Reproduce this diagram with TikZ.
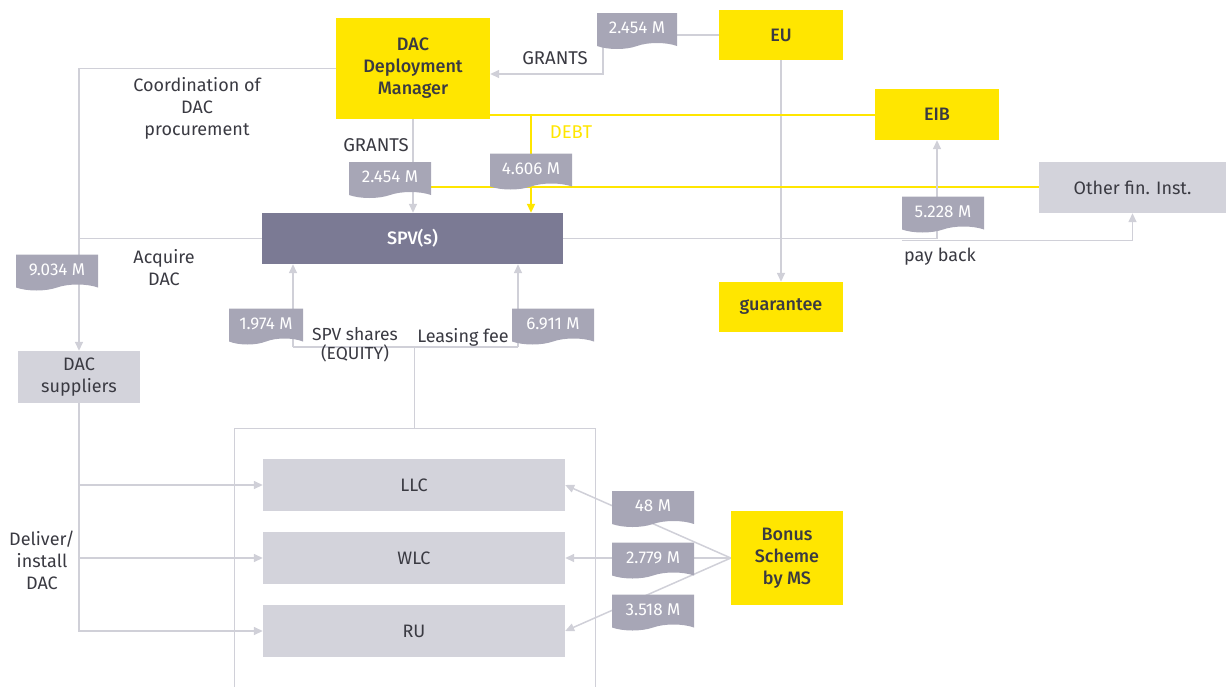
\documentclass[tikz,border=0pt]{standalone}
\usepackage{fontspec}
\setmainfont{Fira Sans}[BoldFont={Fira Sans Medium}]
\usetikzlibrary{arrows.meta,shapes.symbols,backgrounds}
\definecolor{eyyellow}{HTML}{FFE600}
\definecolor{spvfill}{HTML}{7B7A94}
\definecolor{lightbox}{HTML}{D3D3DB}
\definecolor{tagfill}{HTML}{A7A6B6}
\definecolor{linegrey}{HTML}{D0D0D8}
\definecolor{txt}{HTML}{3A3A42}
\tikzset{every picture/.style={x=1pt,y=-1pt}}
\tikzset{
  ybox/.style={fill=eyyellow, text=txt, font=\fontsize{18}{22}\selectfont\bfseries, align=center, inner sep=2pt},
  gbox/.style={fill=lightbox, text=txt, align=center, inner sep=2pt},
  moneytag/.style={shape=tape, tape bend top=none, tape bend bottom=in and out,
    tape bend height=6pt, fill=tagfill, text=white, font=\fontsize{17}{20}\selectfont,
    minimum width=82pt, minimum height=36pt, inner sep=0pt},
  flow/.style={draw=linegrey, line width=1.5pt},
  flowarr/.style={flow, -{Triangle[length=9pt,width=8pt]}},
  debt/.style={draw=eyyellow, line width=2pt},
  lbl/.style={text=txt, align=center}
}

\begin{document}
\begin{tikzpicture}[font=\fontsize{18}{22}\selectfont]
    \useasboundingbox (0,0) rectangle (1226,686);
    % boxes
    \node[ybox, minimum width=154pt, minimum height=101pt] (ddm) at (413,68.5) {DAC\\Deployment\\Manager};
    \node[ybox, minimum width=124pt, minimum height=50pt] (eu) at (781,35) {EU};
    \node[ybox, minimum width=124pt, minimum height=51pt] (eib) at (937,114.5) {EIB};
    \node[ybox, minimum width=124pt, minimum height=50pt] (guar) at (781,307) {guarantee};
    \node[ybox, minimum width=112pt, minimum height=94pt] (bonus) at (787,558) {Bonus\\Scheme\\by MS};
    \node[gbox, minimum width=187pt, minimum height=51pt] (ofi) at (1132.5,187.5) {Other fin. Inst.};
    \node[fill=spvfill, text=white, font=\fontsize{18}{22}\selectfont\bfseries, minimum width=301pt, minimum height=51pt] (spv) at (412.5,238.5) {SPV(s)};
    \node[gbox, minimum width=122pt, minimum height=52pt] (sup) at (79,377) {DAC\\suppliers};
    \node[draw=linegrey, line width=1pt, minimum width=361pt, minimum height=272pt] (grp) at (414.5,564) {};
    \node[gbox, minimum width=302pt, minimum height=52pt] (llc) at (414,485) {LLC};
    \node[gbox, minimum width=302pt, minimum height=52pt] (wlc) at (414,558) {WLC};
    \node[gbox, minimum width=302pt, minimum height=52pt] (ru) at (414,631) {RU};

    % amounts
    \node[moneytag, minimum width=80pt] (grantEU) at (637,28) {2.454 M};
    \node[moneytag] (grantDDM) at (390,177) {2.454 M};
    \node[moneytag] (loan) at (531,168.5) {4.606 M};
    \node[moneytag] (acq) at (57,269.5) {9.034 M};
    \node[moneytag, minimum width=74pt] (equity) at (266,323.5) {1.974 M};
    \node[moneytag] (lease) at (553,323.5) {6.911 M};
    \node[moneytag] (payback) at (943,211.5) {5.228 M};
    \node[moneytag] (bonLLC) at (653,506) {48 M\hspace{24pt}};
    \node[moneytag] (bonWLC) at (653,557.5) {2.779 M};
    \node[moneytag] (bonRU) at (653,609.5) {3.518 M};

    % texts
    \node[lbl, font=\fontsize{18.5}{22}\selectfont] (grantsA) at (555,58) {GRANTS};
    \node[lbl, font=\fontsize{18.5}{22}\selectfont] (grantsB) at (376,145) {GRANTS};
    \node[text=eyyellow, font=\fontsize{18.5}{22}\selectfont] (debtlbl) at (571,132) {DEBT};
    \node[lbl] (coord) at (197,108) {Coordination of\\DAC\\procurement};
    \node[lbl] (acqlbl) at (164,268) {Acquire\\DAC};
    \node[lbl, font=\fontsize{17.5}{19}\selectfont] (eqlbl) at (355,345) {SPV shares\\(EQUITY)};
    \node[lbl] (leaselbl) at (463,337) {Leasing fee};
    \node[lbl] (paylbl) at (940,257) {pay back};
    \node[lbl] (deliv) at (42,560) {Deliver/\\install\\DAC};

    \coordinate (eq) at (293,347);
    \coordinate (lf) at (518,347);

    \begin{scope}[on background layer]
    \draw[flowarr] (eu.west) -| ([xshift=6pt]grantEU.south west) |- ([yshift=-5.5pt]ddm.east);
    \draw[flowarr] (ddm.south) -- (ddm.south |- spv.north);
    \draw[flowarr] (eu.south) -- (guar.north);
    \draw[debt] (ddm.east |- eib.west) -- (eib.west);
    \draw[debt, -{Triangle[length=9pt,width=8pt]}] (loan |- eib.west) -- (loan |- spv.north);
    \draw[debt] ([yshift=0.5pt]grantDDM.east |- ofi.west) -- ([yshift=0.5pt]ofi.west);
    \draw[flowarr] (spv.east) -| (eib.south);
    \draw[flowarr] ([yshift=-2pt]spv.east -| payback.south west) -| (ofi.south);
    \draw[flowarr] (ddm.west) -| (sup.north);
    \draw[flow] (spv.west) -- (spv.west -| sup.north);
    \draw[flowarr] (sup.south) |- (ru.west);
    \draw[flowarr] (sup.south |- llc.west) -- (llc.west);
    \draw[flowarr] (sup.south |- wlc.west) -- (wlc.west);
    \draw[flow] (grp.north) -- (grp.north |- eq);
    \draw[flow] (eq) -- (lf);
    \draw[flowarr] (eq) -- (eq |- spv.south);
    \draw[flowarr] (lf) -- (lf |- spv.south);
    \draw[flowarr] (bonus.west) -- (llc.east);
    \draw[flowarr] (bonus.west) -- (wlc.east);
    \draw[flowarr] (bonus.west) -- (ru.east);
    \end{scope}
\end{tikzpicture}
\end{document}
